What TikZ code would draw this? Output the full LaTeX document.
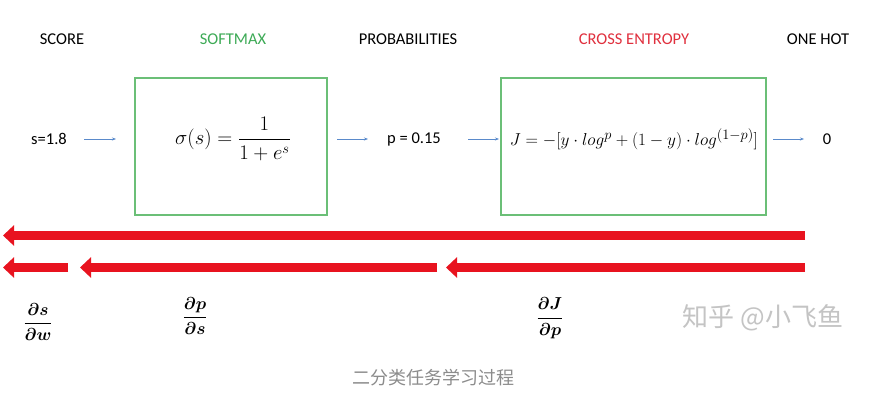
\documentclass[tikz,border=0pt]{standalone}
\usepackage{amsmath}
\usepackage{fontspec}
\setmainfont{Carlito}
\newfontfamily\cjk{Noto Sans CJK SC}
\usetikzlibrary{arrows.meta}
\definecolor{boxgreen}{HTML}{6BBF77}
\definecolor{sgreen}{HTML}{3DAA56}
\definecolor{cered}{HTML}{E0303E}
\definecolor{barred}{HTML}{E8131F}
\definecolor{bluearrow}{HTML}{5A8ACB}
\definecolor{capgray}{HTML}{8C8C8C}
\definecolor{wmgray}{HTML}{C4C4C4}
\begin{document}
\begin{tikzpicture}[x=1pt,y=-1pt,
  hdr/.style={font=\fontsize{16.5}{19}\selectfont, inner sep=0pt},
  val/.style={font=\fontsize{16.5}{19}\selectfont, inner sep=0pt},
  fbox/.style={draw=boxgreen, line width=1.2pt, minimum height=137pt, inner sep=0pt},
  formula/.style={font=\fontsize{19}{22}\selectfont, inner sep=0pt},
  blue/.style={draw=bluearrow, line width=0.8pt, -{Stealth[length=4pt,width=3pt]}},
  redarrow/.style={draw=barred, line width=8.5pt, -{Triangle[length=11pt,width=20pt]}},
  frac/.style={font=\fontsize{16}{19}\selectfont\boldmath, inner sep=0pt}
]
\useasboundingbox (0,0) rectangle (890,400);
\fill[white] (0,0) rectangle (890,400);

% headers
\node[hdr] (hscore) at (62,39) {SCORE};
\node[hdr, text=sgreen] (hsoft) at (233,39) {SOFTMAX};
\node[hdr] (hprob) at (408,39) {PROBABILITIES};
\node[hdr, text=cered] (hce) at (634,39) {CROSS ENTROPY};
\node[hdr] (hone) at (818,39) {ONE HOT};

% boxes
\node[fbox, minimum width=192pt] (soft) at (231,146.5) {};
\node[fbox, minimum width=265pt] (ce) at (633.5,146.5) {};
\node[formula, font=\fontsize{20}{23}\selectfont] (sig) at (233,139) {$\displaystyle \sigma(s)=\frac{1}{1+e^{s}}$};
\node[formula] (jf) at (634,139) {$J=-[y\cdot log^{p}+(1-y)\cdot log^{(1-p)}]$};

% values
\node[val] (sval) at (49,139) {s=1.8};
\node[val] (pval) at (414,139) {p = 0.15};
\node[val] (oval) at (827,139) {0};

% blue arrows
\coordinate (b1s) at (84,139); \coordinate (b1e) at (116,139);
\coordinate (b2s) at (337,139); \coordinate (b2e) at (368,139);
\coordinate (b3s) at (468,139); \coordinate (b3e) at (499,139);
\coordinate (b4s) at (773,139); \coordinate (b4e) at (804,139);
\draw[blue] (b1s) -- (b1e);
\draw[blue] (b2s) -- (b2e);
\draw[blue] (b3s) -- (b3e);
\draw[blue] (b4s) -- (b4e);

% red arrows
\coordinate (r0s) at (805,235.5); \coordinate (r0e) at (3,235.5);
\coordinate (r1s) at (68,267.5); \coordinate (r1e) at (3,267.5);
\coordinate (r2s) at (437,267.5); \coordinate (r2e) at (80,267.5);
\coordinate (r3s) at (805,267.5); \coordinate (r3e) at (446,267.5);
\draw[redarrow] (r0s) -- (r0e);
\draw[redarrow] (r1s) -- (r1e);
\draw[redarrow] (r2s) -- (r2e);
\draw[redarrow] (r3s) -- (r3e);

% derivatives
\node[frac] (dsw) at (38,322) {$\displaystyle\frac{\partial s}{\partial w}$};
\node[frac] (dps) at (195,316) {$\displaystyle\frac{\partial p}{\partial s}$};
\node[frac] (djp) at (550,318) {$\displaystyle\frac{\partial J}{\partial p}$};

% watermark and caption
\node[font=\cjk\fontsize{26}{28}\selectfont, text=wmgray, inner sep=0pt] (wm) at (763,318) {知乎 @小飞鱼};
\node[font=\cjk\fontsize{18}{20}\selectfont, text=capgray, inner sep=0pt] (cap) at (433,378) {二分类任务学习过程};
\end{tikzpicture}
\end{document}
